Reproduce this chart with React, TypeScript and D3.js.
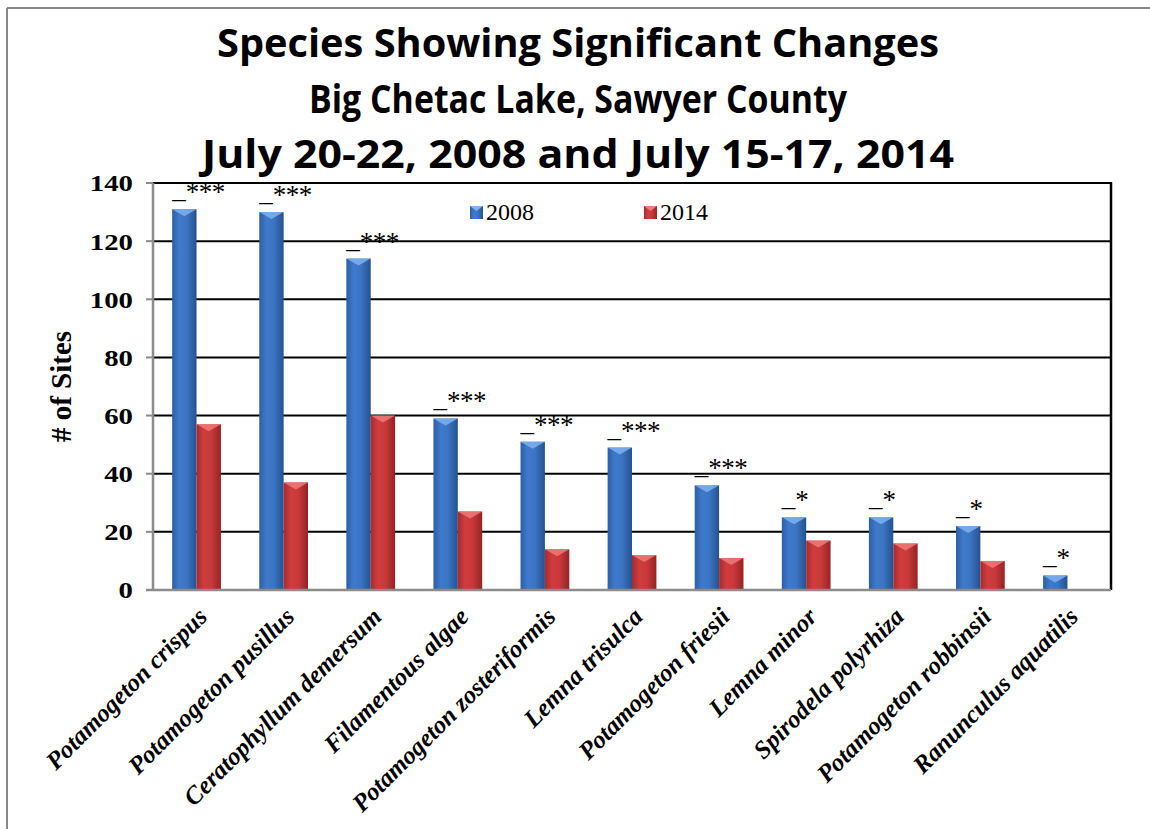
import React from "react";
import * as d3 from "d3";

const species = [
  "Potamogeton crispus",
  "Potamogeton pusillus",
  "Ceratophyllum demersum",
  "Filamentous algae",
  "Potamogeton zosteriformis",
  "Lemna trisulca",
  "Potamogeton friesii",
  "Lemna minor",
  "Spirodela polyrhiza",
  "Potamogeton robbinsii",
  "Ranunculus aquatilis",
];
const years = ["2008", "2014"];
const sites2008 = [131, 130, 114, 59, 51, 49, 36, 25, 25, 22, 5];
const sites2014 = [57, 37, 60, 27, 14, 12, 11, 17, 16, 10, 0];
const significance = ["***", "***", "***", "***", "***", "***", "***", "*", "*", "*", "*"];
const yTicks = [0, 20, 40, 60, 80, 100, 120, 140];
const titleLines = [
  "Species Showing Significant Changes",
  "Big Chetac Lake, Sawyer County",
  "July 20-22, 2008 and July 15-17, 2014",
];
const titleWidths = [722, 538, 752];

const W = 1150;
const H = 829;
const left = 153;
const right = 1111;
const top = 183;
const bottom = 590;

const serif = "'Liberation Serif', 'DejaVu Serif', serif";

export default function App() {
  const x0 = d3
    .scaleBand<string>()
    .domain(species)
    .range([left, right])
    .paddingInner(0.44)
    .paddingOuter(0.22);
  const x1 = d3.scaleBand<string>().domain(years).range([0, x0.bandwidth()]);
  const y = d3.scaleLinear().domain([0, 140]).range([bottom, top]);
  const series = [sites2008, sites2014];

  const bar = (yr: string, cx: number, v: number, key: string) => {
    const bx = cx + (x1(yr) ?? 0);
    const bw = x1.bandwidth();
    const by = y(v);
    const bh = bottom - by;
    if (bh <= 0) return null;
    const grad = yr === "2008" ? "url(#gBlue)" : "url(#gRed)";
    const topFill = yr === "2008" ? "#7fb2ee" : "#f07a7a";
    const bev = Math.min(7, bh / 2);
    return (
      <g key={key}>
        <rect x={bx} y={by} width={bw} height={bh} fill={grad} />
        <path
          d={`M${bx},${by} L${bx + bw},${by} L${bx + bw / 2},${by + bev} Z`}
          fill={topFill}
          opacity={0.85}
        />
      </g>
    );
  };

  return (
    <svg
      width={W}
      height={H}
      style={{ position: "absolute", left: 0, top: 0, background: "#fff" }}
    >
      <defs>
        <linearGradient id="gBlue" x1="0" x2="1" y1="0" y2="0">
          <stop offset="0" stopColor="#2c5fa6" />
          <stop offset="0.3" stopColor="#3f7acb" />
          <stop offset="0.6" stopColor="#3b74c2" />
          <stop offset="1" stopColor="#24528f" />
        </linearGradient>
        <linearGradient id="gRed" x1="0" x2="1" y1="0" y2="0">
          <stop offset="0" stopColor="#a82a2c" />
          <stop offset="0.3" stopColor="#cf3d3e" />
          <stop offset="0.6" stopColor="#c9393a" />
          <stop offset="1" stopColor="#952325" />
        </linearGradient>
      </defs>
      <rect x={0} y={0} width={W} height={H} fill="#fff" />
      {/* outer frame (cropped) */}
      <line x1={7} x2={W} y1={8} y2={8} stroke="#888" strokeWidth={2} />
      <line x1={7} x2={7} y1={8} y2={H} stroke="#888" strokeWidth={2} />

      {/* title */}
      {titleLines.map((t, i) => (
        <text
          key={t}
          x={578}
          y={57 + i * 55.5}
          textAnchor="middle"
          fontFamily="'Open Sans', Lato, sans-serif"
          fontWeight="bold"
          fontSize={39}
          textLength={titleWidths[i]}
          lengthAdjust="spacingAndGlyphs"
        >
          {t}
        </text>
      ))}

      {/* gridlines */}
      {yTicks
        .filter((t) => t > 0)
        .map((t) => (
          <line key={t} x1={left} x2={right} y1={y(t)} y2={y(t)} stroke="#000" strokeWidth={2} />
        ))}
      <line x1={right} x2={right} y1={top - 1} y2={bottom} stroke="#000" strokeWidth={2.5} />

      {/* bars */}
      {species.map((s, i) => {
        const cx = x0(s) ?? 0;
        return (
          <g key={s}>
            {years.map((yr, j) => bar(yr, cx, series[j][i], s + yr))}
          </g>
        );
      })}

      {/* axes */}
      <line x1={left} x2={left} y1={top} y2={bottom} stroke="#8c8c8c" strokeWidth={2.5} />
      <line x1={left - 7} x2={right} y1={bottom} y2={bottom} stroke="#8c8c8c" strokeWidth={2.5} />
      {yTicks.map((t) => (
        <g key={t}>
          <line x1={left - 7} x2={left} y1={y(t)} y2={y(t)} stroke="#8c8c8c" strokeWidth={2} />
          <text
            transform={`translate(133, ${y(t)}) scale(1.2, 1)`}
            dy="0.35em"
            textAnchor="end"
            fontFamily={serif}
            fontWeight="bold"
            fontSize={24}
          >
            {t}
          </text>
        </g>
      ))}
      <text
        transform={`translate(71, ${(top + bottom) / 2}) rotate(-90)`}
        textAnchor="middle"
        fontFamily={serif}
        fontWeight="bold"
        fontSize={29}
      >
        # of Sites
      </text>

      {/* significance labels: a raised dash followed by asterisks */}
      {species.map((s, i) => (
        <text
          key={s}
          x={(x0(s) ?? 0) + (x1("2008") ?? 0)}
          y={y(sites2008[i]) - 11}
          fontFamily={serif}
          fontSize={27}
        >
          <tspan>_</tspan>
          <tspan dy={3} letterSpacing={-0.5}>
            {significance[i]}
          </tspan>
        </text>
      ))}

      {/* category labels */}
      {species.map((s) => {
        const cx = (x0(s) ?? 0) + x0.bandwidth() / 2 + 6;
        return (
          <text
            key={s}
            transform={`translate(${cx}, 612) rotate(-45)`}
            textAnchor="end"
            dy="0.35em"
            fontFamily={serif}
            fontWeight="bold"
            fontStyle="italic"
            fontSize={25}
          >
            {s}
          </text>
        );
      })}

      {/* legend */}
      {years.map((yr, i) => {
        const lx = [470, 644][i];
        return (
          <g key={yr}>
            <rect x={lx} y={206} width={13} height={13} fill={i === 0 ? "url(#gBlue)" : "url(#gRed)"} />
            <path d={`M${lx},206 L${lx + 13},206 L${lx + 6.5},211 Z`} fill={i === 0 ? "#7fb2ee" : "#f07a7a"} />
            <text x={lx + 16} y={220} fontFamily={serif} fontSize={24}>
              {yr}
            </text>
          </g>
        );
      })}
    </svg>
  );
}
